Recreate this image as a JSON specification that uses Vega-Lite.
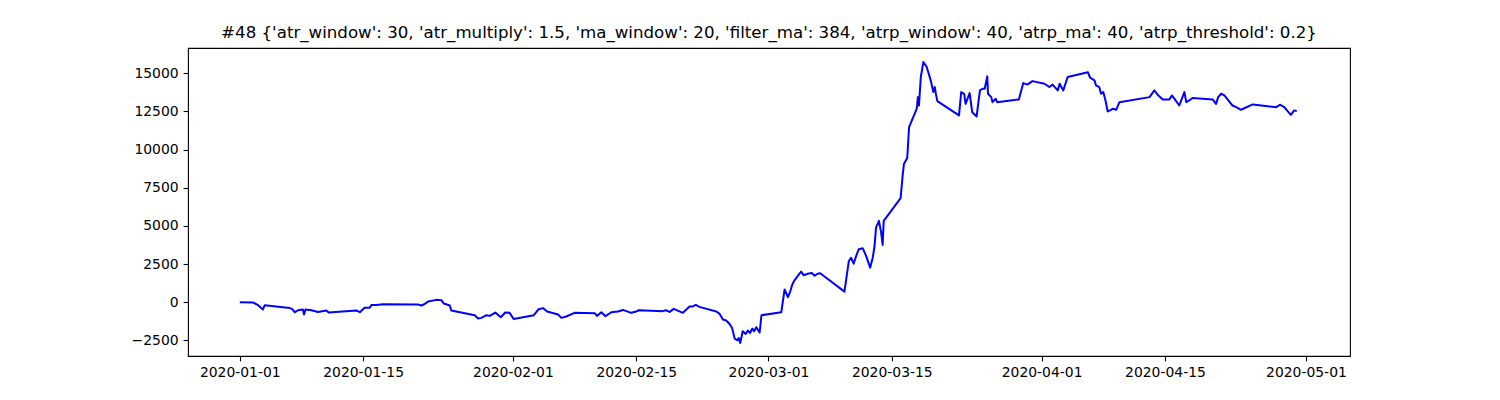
{
  "$schema": "https://vega.github.io/schema/vega-lite/v6.json",
  "width": 1162,
  "height": 308,
  "autosize": "none",
  "padding": {"left": 188, "top": 48, "right": 150, "bottom": 44},
  "background": "white",
  "title": {
    "text": "#48 {'atr_window': 30, 'atr_multiply': 1.5, 'ma_window': 20, 'filter_ma': 384, 'atrp_window': 40, 'atrp_ma': 40, 'atrp_threshold': 0.2}",
    "font": "DejaVu Sans",
    "fontSize": 16.65,
    "fontWeight": "normal",
    "color": "black",
    "anchor": "middle",
    "offset": 6
  },
  "config": {
    "view": {"stroke": "black", "strokeWidth": 1.1},
    "axis": {
      "grid": false,
      "domain": false,
      "labelFont": "DejaVu Sans",
      "labelFontSize": 13.9,
      "labelColor": "black",
      "tickColor": "black",
      "tickSize": 4.9,
      "tickWidth": 1.1,
      "labelPadding": 5,
      "title": null
    }
  },
  "data": {
    "values": [
      {"t": "2020-01-01T00:00", "v": 0},
      {"t": "2020-01-02T12:00", "v": -20},
      {"t": "2020-01-03T02:00", "v": -200},
      {"t": "2020-01-03T15:00", "v": -480},
      {"t": "2020-01-03T20:00", "v": -200},
      {"t": "2020-01-06T16:00", "v": -390},
      {"t": "2020-01-06T22:00", "v": -440},
      {"t": "2020-01-07T06:00", "v": -660},
      {"t": "2020-01-07T15:00", "v": -530},
      {"t": "2020-01-08T04:00", "v": -480},
      {"t": "2020-01-08T07:00", "v": -810},
      {"t": "2020-01-08T11:00", "v": -480},
      {"t": "2020-01-09T03:00", "v": -530},
      {"t": "2020-01-09T21:00", "v": -640},
      {"t": "2020-01-10T20:00", "v": -550},
      {"t": "2020-01-11T02:00", "v": -680},
      {"t": "2020-01-14T06:00", "v": -550},
      {"t": "2020-01-14T15:00", "v": -660},
      {"t": "2020-01-15T04:00", "v": -370},
      {"t": "2020-01-15T18:00", "v": -370},
      {"t": "2020-01-15T23:00", "v": -180},
      {"t": "2020-01-16T12:00", "v": -180},
      {"t": "2020-01-17T06:00", "v": -130},
      {"t": "2020-01-21T05:00", "v": -150},
      {"t": "2020-01-21T15:00", "v": -220},
      {"t": "2020-01-22T00:00", "v": -110},
      {"t": "2020-01-22T09:00", "v": 40},
      {"t": "2020-01-23T08:00", "v": 150},
      {"t": "2020-01-23T21:00", "v": 130},
      {"t": "2020-01-24T04:00", "v": -90},
      {"t": "2020-01-24T20:00", "v": -220},
      {"t": "2020-01-25T00:00", "v": -550},
      {"t": "2020-01-27T16:00", "v": -855},
      {"t": "2020-01-28T01:00", "v": -1070},
      {"t": "2020-01-28T10:00", "v": -1030},
      {"t": "2020-01-29T00:00", "v": -855},
      {"t": "2020-01-29T09:00", "v": -900},
      {"t": "2020-01-30T00:00", "v": -680},
      {"t": "2020-01-30T15:00", "v": -990},
      {"t": "2020-01-31T03:00", "v": -680},
      {"t": "2020-01-31T15:00", "v": -700},
      {"t": "2020-02-01T02:00", "v": -1100},
      {"t": "2020-02-03T09:00", "v": -855},
      {"t": "2020-02-03T22:00", "v": -460},
      {"t": "2020-02-04T10:00", "v": -390},
      {"t": "2020-02-04T21:00", "v": -610},
      {"t": "2020-02-06T03:00", "v": -810},
      {"t": "2020-02-06T12:00", "v": -1030},
      {"t": "2020-02-07T01:00", "v": -940},
      {"t": "2020-02-08T00:00", "v": -700},
      {"t": "2020-02-10T07:00", "v": -720},
      {"t": "2020-02-10T13:00", "v": -900},
      {"t": "2020-02-11T01:00", "v": -660},
      {"t": "2020-02-11T12:00", "v": -920},
      {"t": "2020-02-12T04:00", "v": -660},
      {"t": "2020-02-12T22:00", "v": -610},
      {"t": "2020-02-13T12:00", "v": -510},
      {"t": "2020-02-13T21:00", "v": -590},
      {"t": "2020-02-14T10:00", "v": -700},
      {"t": "2020-02-15T00:00", "v": -610},
      {"t": "2020-02-15T07:00", "v": -530},
      {"t": "2020-02-18T00:00", "v": -590},
      {"t": "2020-02-18T08:00", "v": -530},
      {"t": "2020-02-18T19:00", "v": -640},
      {"t": "2020-02-19T06:00", "v": -440},
      {"t": "2020-02-20T07:00", "v": -700},
      {"t": "2020-02-21T01:00", "v": -280},
      {"t": "2020-02-21T10:00", "v": -280},
      {"t": "2020-02-21T18:00", "v": -180},
      {"t": "2020-02-22T04:00", "v": -310},
      {"t": "2020-02-24T02:00", "v": -610},
      {"t": "2020-02-24T11:00", "v": -770},
      {"t": "2020-02-24T20:00", "v": -1140},
      {"t": "2020-02-25T05:00", "v": -1200},
      {"t": "2020-02-25T14:00", "v": -1430},
      {"t": "2020-02-25T21:00", "v": -1690},
      {"t": "2020-02-26T04:00", "v": -2390},
      {"t": "2020-02-26T11:00", "v": -2500},
      {"t": "2020-02-26T15:00", "v": -2350},
      {"t": "2020-02-26T19:00", "v": -2680},
      {"t": "2020-02-27T02:00", "v": -1910},
      {"t": "2020-02-27T10:00", "v": -2080},
      {"t": "2020-02-27T16:00", "v": -1860},
      {"t": "2020-02-27T22:00", "v": -2020},
      {"t": "2020-02-28T04:00", "v": -1730},
      {"t": "2020-02-28T09:00", "v": -1910},
      {"t": "2020-02-28T15:00", "v": -1640},
      {"t": "2020-02-29T00:00", "v": -1990},
      {"t": "2020-02-29T05:00", "v": -855},
      {"t": "2020-03-02T11:00", "v": -660},
      {"t": "2020-03-02T20:00", "v": 835},
      {"t": "2020-03-03T05:00", "v": 330},
      {"t": "2020-03-03T11:00", "v": 680},
      {"t": "2020-03-03T17:00", "v": 1160},
      {"t": "2020-03-03T23:00", "v": 1430},
      {"t": "2020-03-04T13:00", "v": 1890},
      {"t": "2020-03-04T17:00", "v": 2000},
      {"t": "2020-03-05T00:00", "v": 1760},
      {"t": "2020-03-05T11:00", "v": 1860},
      {"t": "2020-03-05T22:00", "v": 1910},
      {"t": "2020-03-06T06:00", "v": 1730},
      {"t": "2020-03-06T14:00", "v": 1860},
      {"t": "2020-03-06T21:00", "v": 1890},
      {"t": "2020-03-09T15:00", "v": 690},
      {"t": "2020-03-10T03:00", "v": 2700},
      {"t": "2020-03-10T09:00", "v": 2910},
      {"t": "2020-03-10T16:00", "v": 2520},
      {"t": "2020-03-10T23:00", "v": 3030},
      {"t": "2020-03-11T06:00", "v": 3470},
      {"t": "2020-03-11T17:00", "v": 3530},
      {"t": "2020-03-12T02:00", "v": 3030},
      {"t": "2020-03-12T13:00", "v": 2260},
      {"t": "2020-03-12T20:00", "v": 2910},
      {"t": "2020-03-13T01:00", "v": 3680},
      {"t": "2020-03-13T05:00", "v": 4890},
      {"t": "2020-03-13T13:00", "v": 5330},
      {"t": "2020-03-13T19:00", "v": 4560},
      {"t": "2020-03-13T23:00", "v": 3750},
      {"t": "2020-03-14T02:00", "v": 5330},
      {"t": "2020-03-16T00:00", "v": 6820},
      {"t": "2020-03-16T05:00", "v": 8180},
      {"t": "2020-03-16T09:00", "v": 9060},
      {"t": "2020-03-16T18:00", "v": 9450},
      {"t": "2020-03-16T23:00", "v": 11470},
      {"t": "2020-03-17T20:00", "v": 12680},
      {"t": "2020-03-17T23:00", "v": 13440},
      {"t": "2020-03-18T02:00", "v": 12890},
      {"t": "2020-03-18T07:00", "v": 14760},
      {"t": "2020-03-18T14:00", "v": 15740},
      {"t": "2020-03-18T23:00", "v": 15420},
      {"t": "2020-03-19T10:00", "v": 14540},
      {"t": "2020-03-19T17:00", "v": 13770},
      {"t": "2020-03-19T21:00", "v": 14100},
      {"t": "2020-03-20T00:00", "v": 13660},
      {"t": "2020-03-20T04:00", "v": 13180},
      {"t": "2020-03-22T15:00", "v": 12240},
      {"t": "2020-03-22T21:00", "v": 13770},
      {"t": "2020-03-23T05:00", "v": 13660},
      {"t": "2020-03-23T09:00", "v": 13000},
      {"t": "2020-03-23T20:00", "v": 13700},
      {"t": "2020-03-24T03:00", "v": 12450},
      {"t": "2020-03-24T15:00", "v": 12170},
      {"t": "2020-03-25T00:00", "v": 13880},
      {"t": "2020-03-25T07:00", "v": 13990},
      {"t": "2020-03-25T13:00", "v": 13990},
      {"t": "2020-03-25T20:00", "v": 14800},
      {"t": "2020-03-25T22:00", "v": 13660},
      {"t": "2020-03-26T07:00", "v": 13440},
      {"t": "2020-03-26T10:00", "v": 13110},
      {"t": "2020-03-26T19:00", "v": 13330},
      {"t": "2020-03-26T23:00", "v": 13110},
      {"t": "2020-03-29T10:00", "v": 13290},
      {"t": "2020-03-29T22:00", "v": 14360},
      {"t": "2020-03-30T09:00", "v": 14260},
      {"t": "2020-03-30T23:00", "v": 14490},
      {"t": "2020-04-01T08:00", "v": 14320},
      {"t": "2020-04-01T21:00", "v": 14100},
      {"t": "2020-04-02T06:00", "v": 14260},
      {"t": "2020-04-02T20:00", "v": 13880},
      {"t": "2020-04-03T01:00", "v": 14320},
      {"t": "2020-04-03T11:00", "v": 13880},
      {"t": "2020-04-03T23:00", "v": 14760},
      {"t": "2020-04-06T06:00", "v": 15070},
      {"t": "2020-04-06T12:00", "v": 14720},
      {"t": "2020-04-07T00:00", "v": 14540},
      {"t": "2020-04-07T04:00", "v": 14210},
      {"t": "2020-04-07T13:00", "v": 14100},
      {"t": "2020-04-07T18:00", "v": 13660},
      {"t": "2020-04-08T00:00", "v": 13770},
      {"t": "2020-04-08T06:00", "v": 13220},
      {"t": "2020-04-08T12:00", "v": 12500},
      {"t": "2020-04-08T21:00", "v": 12610},
      {"t": "2020-04-09T02:00", "v": 12680},
      {"t": "2020-04-09T11:00", "v": 12610},
      {"t": "2020-04-09T20:00", "v": 13110},
      {"t": "2020-04-13T06:00", "v": 13440},
      {"t": "2020-04-13T19:00", "v": 13880},
      {"t": "2020-04-14T04:00", "v": 13600},
      {"t": "2020-04-14T18:00", "v": 13290},
      {"t": "2020-04-15T12:00", "v": 13290},
      {"t": "2020-04-15T19:00", "v": 13550},
      {"t": "2020-04-16T02:00", "v": 13330},
      {"t": "2020-04-16T15:00", "v": 12890},
      {"t": "2020-04-17T05:00", "v": 13770},
      {"t": "2020-04-17T10:00", "v": 13110},
      {"t": "2020-04-17T18:00", "v": 13220},
      {"t": "2020-04-18T03:00", "v": 13380},
      {"t": "2020-04-20T10:00", "v": 13290},
      {"t": "2020-04-20T19:00", "v": 13000},
      {"t": "2020-04-21T01:00", "v": 13440},
      {"t": "2020-04-21T09:00", "v": 13660},
      {"t": "2020-04-21T18:00", "v": 13550},
      {"t": "2020-04-22T16:00", "v": 12890},
      {"t": "2020-04-23T02:00", "v": 12780},
      {"t": "2020-04-23T15:00", "v": 12610},
      {"t": "2020-04-24T23:00", "v": 12960},
      {"t": "2020-04-27T15:00", "v": 12780},
      {"t": "2020-04-28T01:00", "v": 12940},
      {"t": "2020-04-28T13:00", "v": 12780},
      {"t": "2020-04-28T22:00", "v": 12520},
      {"t": "2020-04-29T07:00", "v": 12280},
      {"t": "2020-04-29T16:00", "v": 12570},
      {"t": "2020-04-29T23:00", "v": 12520}
    ]
  },
  "mark": {"type": "line", "color": "#0000ff", "strokeWidth": 2, "strokeJoin": "round", "clip": true},
  "encoding": {
    "x": {
      "field": "t",
      "type": "temporal",
      "scale": {
        "domain": [
          {"year": 2019, "month": 12, "date": 26, "hours": 3},
          {"year": 2020, "month": 5, "date": 6}
        ],
        "nice": false
      },
      "axis": {
        "values": [
          {"year": 2020, "month": 1, "date": 1},
          {"year": 2020, "month": 1, "date": 15},
          {"year": 2020, "month": 2, "date": 1},
          {"year": 2020, "month": 2, "date": 15},
          {"year": 2020, "month": 3, "date": 1},
          {"year": 2020, "month": 3, "date": 15},
          {"year": 2020, "month": 4, "date": 1},
          {"year": 2020, "month": 4, "date": 15},
          {"year": 2020, "month": 5, "date": 1}
        ],
        "format": "%Y-%m-%d",
        "labelAngle": 0,
        "labelFlush": false,
        "labelOverlap": false
      }
    },
    "y": {
      "field": "v",
      "type": "quantitative",
      "scale": {"domain": [-3530, 16660], "nice": false, "zero": false},
      "axis": {
        "values": [-2500, 0, 2500, 5000, 7500, 10000, 12500, 15000],
        "labelExpr": "replace(format(datum.value, 'd'), '-', '\u2212')",
        "labelFlush": false,
        "labelOverlap": false
      }
    }
  }
}
